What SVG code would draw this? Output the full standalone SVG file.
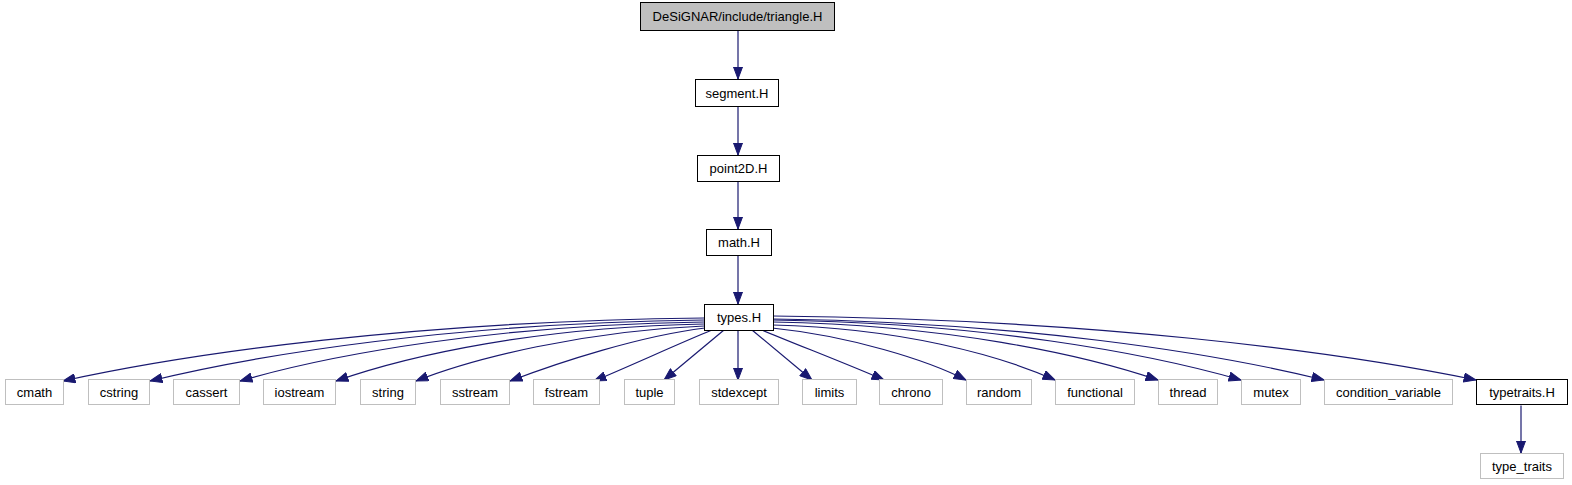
<svg xmlns="http://www.w3.org/2000/svg" width="1572" height="485" viewBox="0 0 1572 485">
<style>
  .n rect { fill: #ffffff; stroke: #000000; stroke-width: 1; }
  .n.root rect { fill: #bfbfbf; }
  .n.ext rect { stroke: #bfbfbf; }
  .n text { font-family: "Liberation Sans", Arial, sans-serif; font-size: 13px; fill: #000000; text-anchor: middle; }
  .e path { fill: none; stroke: #191970; stroke-width: 1.2; marker-end: url(#ah); }
</style>
<defs>
  <marker id="ah" markerUnits="userSpaceOnUse" markerWidth="13" markerHeight="10" viewBox="0 0 13 10" refX="12.5" refY="5" orient="auto">
    <path d="M0.5,0.5 L12.5,5 L0.5,9.5 Z" fill="#191970" stroke="#191970" stroke-width="1"/>
  </marker>
</defs>
<rect width="1572" height="485" fill="#ffffff"/>
<g id="edges" class="e">
  <path d="M738,30.5 L738,79"/>
  <path d="M738,106.5 L738,155"/>
  <path d="M738,181.5 L738,229"/>
  <path d="M738,255.5 L738,304"/>
  <path d="M704,318 C416,321 191,353 63,381"/>
  <path d="M704,320 C455,323 261,354 150,381"/>
  <path d="M704,322 C495,325 333,354 240,381"/>
  <path d="M704,324 C538,327 410,355 336,381"/>
  <path d="M704,326 C584,331 474,358 416,381"/>
  <path d="M705,328 C640,336 560,362 510,381"/>
  <path d="M712,330 C680,343 630,366 594,381"/>
  <path d="M724,330 L664,380"/>
  <path d="M738,330.5 L738,380"/>
  <path d="M752,330 L812,380"/>
  <path d="M762,330 C790,342 850,365 884,380"/>
  <path d="M772,328 C850,336 927,360 966,380"/>
  <path d="M773,325 C900,328 999,355 1055,380"/>
  <path d="M773,322 C946,325 1081,354 1158,380"/>
  <path d="M773,320 C984,323 1147,353 1241,380"/>
  <path d="M773,319 C1021,322 1214,353 1324,380"/>
  <path d="M773,316 C1089,319 1335,351 1476,380"/>
  <path d="M1521,405.5 L1521,453"/>
</g>
<g id="n_triangle" class="n root"><rect x="640.5" y="2.5" width="194" height="28"/><text x="737.5" y="21">DeSiGNAR/include/triangle.H</text></g>
<g id="n_segment" class="n"><rect x="695.5" y="79.5" width="83" height="27"/><text x="737" y="97.5">segment.H</text></g>
<g id="n_point2D" class="n"><rect x="697.5" y="155.5" width="82" height="26"/><text x="738.5" y="173">point2D.H</text></g>
<g id="n_math" class="n"><rect x="706.5" y="229.5" width="65" height="26"/><text x="739" y="247">math.H</text></g>
<g id="n_types" class="n"><rect x="704.5" y="304.5" width="69" height="26"/><text x="739" y="322">types.H</text></g>
<g id="n_cmath" class="n ext"><rect x="5.5" y="379.5" width="58" height="25"/><text x="34.5" y="396.5">cmath</text></g>
<g id="n_cstring" class="n ext"><rect x="88.5" y="379.5" width="61" height="25"/><text x="119" y="396.5">cstring</text></g>
<g id="n_cassert" class="n ext"><rect x="173.5" y="379.5" width="66" height="25"/><text x="206.5" y="396.5">cassert</text></g>
<g id="n_iostream" class="n ext"><rect x="263.5" y="379.5" width="72" height="25"/><text x="299.5" y="396.5">iostream</text></g>
<g id="n_string" class="n ext"><rect x="360.5" y="379.5" width="55" height="25"/><text x="388" y="396.5">string</text></g>
<g id="n_sstream" class="n ext"><rect x="440.5" y="379.5" width="69" height="25"/><text x="475" y="396.5">sstream</text></g>
<g id="n_fstream" class="n ext"><rect x="533.5" y="379.5" width="66" height="25"/><text x="566.5" y="396.5">fstream</text></g>
<g id="n_tuple" class="n ext"><rect x="624.5" y="379.5" width="50" height="25"/><text x="649.5" y="396.5">tuple</text></g>
<g id="n_stdexcept" class="n ext"><rect x="699.5" y="379.5" width="79" height="25"/><text x="739" y="396.5">stdexcept</text></g>
<g id="n_limits" class="n ext"><rect x="802.5" y="379.5" width="54" height="25"/><text x="829.5" y="396.5">limits</text></g>
<g id="n_chrono" class="n ext"><rect x="879.5" y="379.5" width="63" height="25"/><text x="911" y="396.5">chrono</text></g>
<g id="n_random" class="n ext"><rect x="966.5" y="379.5" width="65" height="25"/><text x="999" y="396.5">random</text></g>
<g id="n_functional" class="n ext"><rect x="1055.5" y="379.5" width="79" height="25"/><text x="1095" y="396.5">functional</text></g>
<g id="n_thread" class="n ext"><rect x="1158.5" y="379.5" width="59" height="25"/><text x="1188" y="396.5">thread</text></g>
<g id="n_mutex" class="n ext"><rect x="1241.5" y="379.5" width="59" height="25"/><text x="1271" y="396.5">mutex</text></g>
<g id="n_condvar" class="n ext"><rect x="1324.5" y="379.5" width="128" height="25"/><text x="1388.5" y="396.5">condition_variable</text></g>
<g id="n_typetraitsH" class="n"><rect x="1476.5" y="379.5" width="91" height="25"/><text x="1522" y="396.5">typetraits.H</text></g>
<g id="n_type_traits" class="n ext"><rect x="1480.5" y="453.5" width="83" height="25"/><text x="1522" y="470.5">type_traits</text></g>
</svg>
